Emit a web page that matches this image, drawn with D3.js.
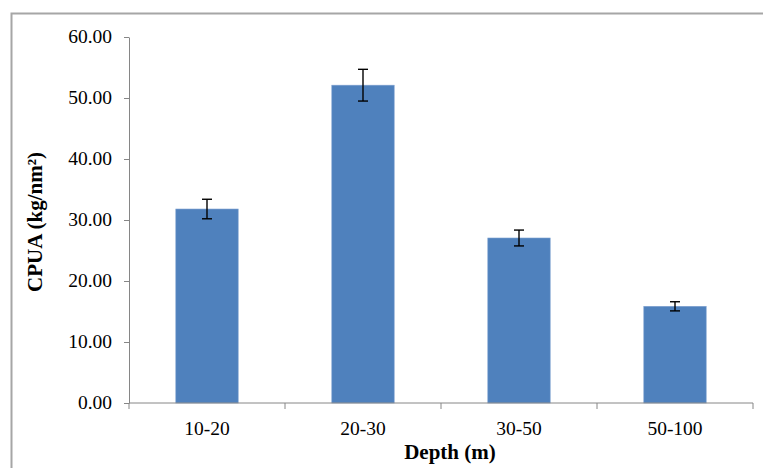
<!DOCTYPE html>
<html>
<head>
<meta charset="utf-8">
<script src="https://cdn.jsdelivr.net/npm/d3@7"></script>
<style>
  body { margin: 0; background: #fff; }
  svg { display: block; font-family: "Liberation Serif", "Times New Roman", serif; }
</style>
</head>
<body>
<div id="chart"></div>
<script>
const depths = ["10-20", "20-30", "30-50", "50-100"]
const cpua = [31.8, 52.1, 27.05, 15.85]
const errors = [1.6, 2.6, 1.3, 0.75]
const yTicks = [0, 10, 20, 30, 40, 50, 60]

const W = 763, H = 468
const AXIS_COLOR = "#868686"
const PLOT = { LEFT: 129, RIGHT: 753, TOP: 37, BOTTOM: 403 }

const svg = d3.select("#chart").append("svg")
  .attr("width", W).attr("height", H)

// outer chart frame (runs off the right and bottom)
svg.append("rect")
  .attr("x", 11.5).attr("y", 13.5)
  .attr("width", W).attr("height", H)
  .attr("fill", "none").attr("stroke", "#a6a6a6").attr("stroke-width", 2)

const x = d3.scaleBand().domain(depths).range([PLOT.LEFT, PLOT.RIGHT]).paddingInner(0.6).paddingOuter(0.3)
const y = d3.scaleLinear().domain([0, 60]).range([PLOT.BOTTOM, PLOT.TOP])
const cx = d => x(d) + x.bandwidth() / 2

// bars
svg.selectAll("rect.bar").data(depths).join("rect")
  .attr("class", "bar")
  .attr("x", d => x(d))
  .attr("width", x.bandwidth())
  .attr("y", (d, i) => y(cpua[i]))
  .attr("height", (d, i) => y(0) - y(cpua[i]))
  .attr("fill", "#4f81bd")
  .attr("stroke", "#7ea1d0").attr("stroke-width", 0.6)

// error bars
const eb = svg.selectAll("g.err").data(depths).join("g").attr("class", "err")
  .attr("stroke", "#000").attr("stroke-width", 1.4)
eb.append("line")
  .attr("x1", cx).attr("x2", cx)
  .attr("y1", (d, i) => y(cpua[i] + errors[i])).attr("y2", (d, i) => y(cpua[i] - errors[i]))
eb.append("line")
  .attr("x1", d => cx(d) - 5).attr("x2", d => cx(d) + 5)
  .attr("y1", (d, i) => y(cpua[i] + errors[i])).attr("y2", (d, i) => y(cpua[i] + errors[i]))
eb.append("line")
  .attr("x1", d => cx(d) - 5).attr("x2", d => cx(d) + 5)
  .attr("y1", (d, i) => y(cpua[i] - errors[i])).attr("y2", (d, i) => y(cpua[i] - errors[i]))

// y axis
const yAxis = svg.append("g")
  .attr("transform", `translate(${PLOT.LEFT},0)`)
  .call(d3.axisLeft(y).tickValues(yTicks).tickFormat(d3.format(".2f")).tickSize(5).tickSizeOuter(0).tickPadding(12))
yAxis.selectAll("path, line").attr("stroke", AXIS_COLOR)
yAxis.selectAll("text")
  .attr("font-size", 19.5).attr("font-family", "Liberation Serif").attr("fill", "#000")
  .attr("dy", "0.28em")

// x axis: ticks at band boundaries
const xAxis = svg.append("g").attr("transform", `translate(0,${PLOT.BOTTOM})`)
xAxis.append("line").attr("x1", PLOT.LEFT).attr("x2", PLOT.RIGHT).attr("stroke", AXIS_COLOR)
const bounds = depths.map(d => x(d) - x.step() * x.paddingInner() / 2)
  .concat([PLOT.RIGHT])
bounds[0] = PLOT.LEFT
xAxis.selectAll("line.tick").data(bounds).join("line")
  .attr("class", "tick")
  .attr("x1", d => d).attr("x2", d => d)
  .attr("y1", 0).attr("y2", 6)
  .attr("stroke", AXIS_COLOR)
xAxis.selectAll("text").data(depths).join("text")
  .attr("x", cx)
  .attr("y", 32)
  .attr("text-anchor", "middle")
  .attr("font-size", 19.5)
  .text(d => d)

// axis titles
svg.append("text")
  .attr("x", 450).attr("y", 459)
  .attr("text-anchor", "middle")
  .attr("font-size", 21).attr("font-weight", "bold")
  .text("Depth (m)")

svg.append("text")
  .attr("transform", "translate(42,222) rotate(-90)")
  .attr("text-anchor", "middle")
  .attr("font-size", 21).attr("font-weight", "bold")
  .text("CPUA (kg/nm²)")
</script>
</body>
</html>
